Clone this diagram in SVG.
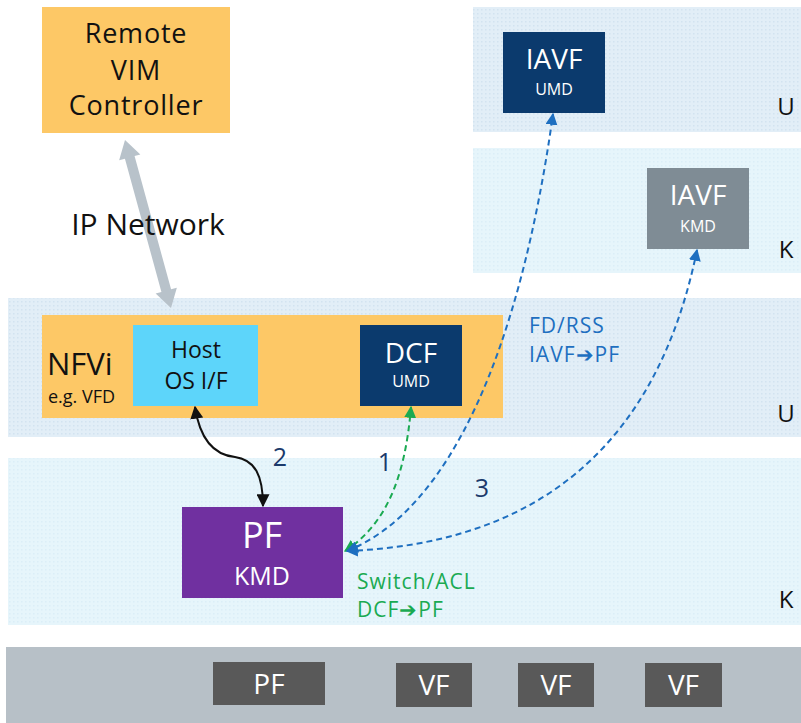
<svg xmlns="http://www.w3.org/2000/svg" width="801" height="723" viewBox="0 0 801 723">
<defs>
<pattern id="dots" width="4" height="4" patternUnits="userSpaceOnUse">
<rect width="4" height="4" fill="#e2eef7"/>
<rect x="1" y="1" width="1.5" height="1.5" fill="#d2e3f0"/>
</pattern>
<pattern id="dotsk" width="4" height="4" patternUnits="userSpaceOnUse">
<rect width="4" height="4" fill="#e6f5fb"/>
<rect x="1" y="1" width="1.5" height="1.5" fill="#dbeef7"/>
</pattern>
<marker id="ab" viewBox="0 0 10 10" refX="9" refY="5" markerWidth="13" markerHeight="13" markerUnits="userSpaceOnUse" orient="auto-start-reverse"><path d="M0,0 L10,5 L0,10 Z" fill="#111"/></marker>
<marker id="ag" viewBox="0 0 10 10" refX="9" refY="5" markerWidth="12" markerHeight="12" markerUnits="userSpaceOnUse" orient="auto-start-reverse"><path d="M0,0 L10,5 L0,10 Z" fill="#1aaa52"/></marker>
<marker id="al" viewBox="0 0 10 10" refX="9" refY="5" markerWidth="12" markerHeight="12" markerUnits="userSpaceOnUse" orient="auto-start-reverse"><path d="M0,0 L10,5 L0,10 Z" fill="#1e6fc0"/></marker>
</defs>
<style>
text{font-family:"Open Sans","Noto Sans","Liberation Sans",sans-serif;text-anchor:middle}
.st{text-anchor:start}
.bk{fill:#111}
.wh{fill:#fff}
.lay{font-size:24px;fill:#111}
.num{font-size:25px;fill:#1b3a6b}
.blu{fill:#1e6fc0;font-size:21px;letter-spacing:1px;text-anchor:start}
.grn{fill:#1aaa52;font-size:21px;letter-spacing:1px;text-anchor:start}
.hw{font-size:28px;fill:#fff}
.big{font-size:27px;letter-spacing:0.8px}
</style>
<g id="bands">
<rect x="473" y="7" width="328" height="125" fill="url(#dots)"/>
<rect x="473" y="148" width="328" height="125" fill="url(#dotsk)"/>
<rect x="8" y="298" width="793" height="139" fill="url(#dots)"/>
<rect x="8" y="458" width="793" height="167" fill="url(#dotsk)"/>
<rect x="6" y="647" width="795" height="76" fill="#b7c0c7"/>
<text class="lay" x="786" y="115">U</text>
<text class="lay" x="786" y="258">K</text>
<text class="lay" x="786" y="422">U</text>
<text class="lay" x="786" y="608">K</text>
</g>
<g id="remote-vim">
<rect x="42" y="7" width="188" height="126" fill="#fdc866"/>
<text class="bk big" x="136" y="43">Remote</text>
<text class="bk big" x="136" y="80">VIM</text>
<text class="bk big" x="136" y="115">Controller</text>
</g>
<g id="ip-network">
<polygon points="125,140 119.15,160.25 124.93,158.67 161.43,291.97 155.65,293.55 171,308 176.85,287.75 171.07,289.33 134.57,156.03 140.35,154.45" fill="#b8c2ca"/>
<text class="bk" x="148" y="235" font-size="30">IP Network</text>
</g>
<g id="iavf-umd">
<rect x="503" y="32" width="102" height="81" fill="#0b3a6d"/>
<text class="wh" x="554" y="69" font-size="28">IAVF</text>
<text class="wh" x="554" y="95" font-size="16">UMD</text>
</g>
<g id="iavf-kmd">
<rect x="647" y="168" width="102" height="81" fill="#7f8c95"/>
<text class="wh" x="698" y="205" font-size="28">IAVF</text>
<text class="wh" x="698" y="232" font-size="16">KMD</text>
</g>
<g id="nfvi">
<rect x="42" y="315" width="461" height="103" fill="#fdc866"/>
<text class="bk st" x="47" y="375" font-size="31">NFVi</text>
<text class="bk st" x="48" y="403" font-size="18">e.g. VFD</text>
</g>
<g id="host-os">
<rect x="133" y="325" width="125" height="81" fill="#5dd5fa"/>
<text class="bk" x="196" y="358" font-size="23">Host</text>
<text class="bk" x="196" y="389" font-size="23">OS I/F</text>
</g>
<g id="dcf-umd">
<rect x="360" y="325" width="102" height="81" fill="#0b3a6d"/>
<text class="wh" x="411" y="363" font-size="28">DCF</text>
<text class="wh" x="411" y="387" font-size="16">UMD</text>
</g>
<g id="pf-kmd">
<rect x="182" y="507" width="161" height="91" fill="#7030a0"/>
<text class="wh" x="262" y="548" font-size="36">PF</text>
<text class="wh" x="262" y="585" font-size="25">KMD</text>
</g>
<g id="hw-pf"><rect x="213" y="662" width="112" height="43" fill="#595959"/><text class="hw" x="269" y="694">PF</text></g>
<g id="hw-vf1"><rect x="396" y="663" width="76" height="44" fill="#595959"/><text class="hw" x="434" y="695">VF</text></g>
<g id="hw-vf2"><rect x="518" y="663" width="76" height="44" fill="#595959"/><text class="hw" x="556" y="695">VF</text></g>
<g id="hw-vf3"><rect x="645" y="663" width="77" height="44" fill="#595959"/><text class="hw" x="683.5" y="695">VF</text></g>
<g id="connectors" fill="none">
<path d="M195,407 C200,440 215,455 235,457 C255,460 263,475 263,506" stroke="#111" stroke-width="2" marker-start="url(#ab)" marker-end="url(#ab)"/>
<path d="M345,551 C385,525 405,480 411,407" stroke="#1aaa52" stroke-width="2" stroke-dasharray="6,4" marker-start="url(#ag)" marker-end="url(#ag)"/>
<path d="M347,551 C450,510 520,350 553,114" stroke="#1e6fc0" stroke-width="2" stroke-dasharray="6,4" marker-start="url(#al)" marker-end="url(#al)"/>
<path d="M347,551 C500,545 650,480 697,250" stroke="#1e6fc0" stroke-width="2" stroke-dasharray="6,4" marker-start="url(#al)" marker-end="url(#al)"/>
</g>
<g id="labels">
<text class="num" x="280" y="466">2</text>
<text class="num" x="385" y="471">1</text>
<text class="num" x="482" y="497">3</text>
<text class="blu" x="529" y="333">FD/RSS</text>
<text class="blu" x="529" y="362">IAVF➔PF</text>
<text class="grn" x="357" y="589">Switch/ACL</text>
<text class="grn" x="357" y="617">DCF➔PF</text>
</g>
</svg>
